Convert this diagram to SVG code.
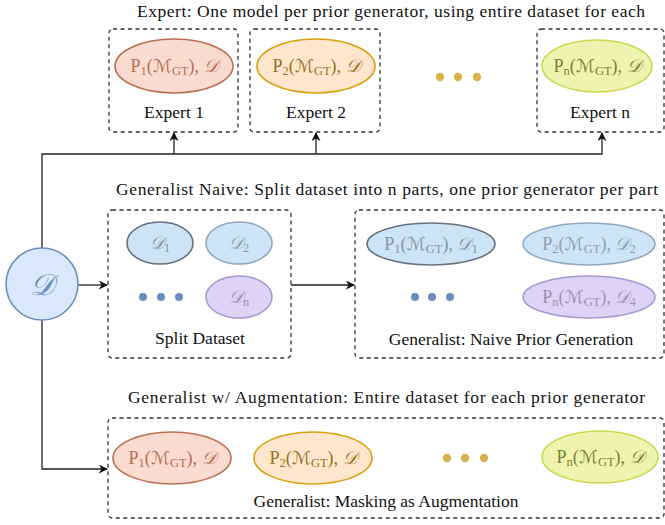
<svg xmlns="http://www.w3.org/2000/svg" width="665" height="525" viewBox="0 0 665 525">
<defs>
<marker id="arr" viewBox="0 0 10 10" refX="9" refY="5" markerWidth="9" markerHeight="9" markerUnits="userSpaceOnUse" orient="auto">
<path d="M0,0 L10,5 L0,10 L3,5 Z" fill="#111"/>
</marker>
</defs>
<style>
text{font-family:"Liberation Serif","Times New Roman",serif;}
.t{font-size:17.5px;fill:#111;}
.box{fill:none;stroke:#333;stroke-width:1.3;stroke-dasharray:4 3.5;}
.ln{fill:none;stroke:#222;stroke-width:1.3;}
.m{font-size:18px;text-anchor:middle;}
.sub{font-size:12.5px;}
.cal{font-family:"DejaVu Serif","DejaVu Sans",serif;font-style:italic;}
.calm{font-family:"DejaVu Sans",sans-serif;font-style:normal;}
.c1 ellipse{fill:#f9dccf;stroke:#bc6e52;stroke-width:1.6;}
.c1 text{fill:#b86e52;}
.c2 ellipse{fill:#ffe6cc;stroke:#d9a00f;stroke-width:1.6;}
.c2 text{fill:#94721f;}
.c3 ellipse{fill:#eef4ad;stroke:#cbd651;stroke-width:1.6;}
.c3 text{fill:#7b803a;}
.b1 ellipse{fill:#cde4f7;stroke:#65727d;stroke-width:1.6;}
.b1 text{fill:#8796a3;}
.b2 ellipse{fill:#cde4f9;stroke:#93a9be;stroke-width:1.6;}
.b2 text{fill:#8d9eae;}
.p1 ellipse{fill:#ddd3f6;stroke:#a898cf;stroke-width:1.6;}
.p1 text{fill:#9a92ac;}
.dy{fill:#d8b24c;}
.db{fill:#6c8ebf;}
</style>

<!-- titles -->
<text class="t" x="137" y="17" textLength="508" lengthAdjust="spacing">Expert: One model per prior generator, using entire dataset for each</text>
<text class="t" x="116" y="195" textLength="542" lengthAdjust="spacing">Generalist Naive: Split dataset into n parts, one prior generator per part</text>
<text class="t" x="128" y="403" textLength="517" lengthAdjust="spacing">Generalist w/ Augmentation: Entire dataset for each prior generator</text>

<!-- connectors -->
<g id="connectors">
<path class="ln" d="M42,248 V154 H602 V133" marker-end="url(#arr)"/>
<path class="ln" d="M174,154 V133" marker-end="url(#arr)"/>
<path class="ln" d="M316,154 V133" marker-end="url(#arr)"/>
<path class="ln" d="M77,285 H107" marker-end="url(#arr)"/>
<path class="ln" d="M291,285 H354" marker-end="url(#arr)"/>
<path class="ln" d="M42,320 V469 H107" marker-end="url(#arr)"/>
</g>

<!-- D circle -->
<g id="dataset">
<circle cx="42" cy="284" r="36" fill="#dae8fc" stroke="#6c8ebf" stroke-width="1.6"/>
<text x="42" y="295" text-anchor="middle" font-size="30" fill="#6c8ebf" class="cal">𝒟</text>
</g>

<!-- Expert 1 -->
<g id="expert1">
<rect class="box" x="109" y="29" width="129" height="103" rx="4"/>
<g class="c1"><ellipse cx="174" cy="66" rx="59" ry="27"/>
<text class="m" x="174" y="72">P<tspan class="sub" dy="3">1</tspan><tspan dy="-3">(</tspan><tspan class="calm">ℳ</tspan><tspan class="sub" dy="3">GT</tspan><tspan dy="-3">), </tspan><tspan class="cal">𝒟</tspan></text></g>
<text class="t" x="174" y="118" text-anchor="middle">Expert 1</text>
</g>

<!-- Expert 2 -->
<g id="expert2">
<rect class="box" x="250" y="29" width="130" height="103" rx="4"/>
<g class="c2"><ellipse cx="316" cy="66" rx="59" ry="27"/>
<text class="m" x="316" y="72">P<tspan class="sub" dy="3">2</tspan><tspan dy="-3">(</tspan><tspan class="calm">ℳ</tspan><tspan class="sub" dy="3">GT</tspan><tspan dy="-3">), </tspan><tspan class="cal">𝒟</tspan></text></g>
<text class="t" x="316" y="118" text-anchor="middle">Expert 2</text>
</g>

<g id="expert-dots">
<circle class="dy" cx="440" cy="77" r="4.2"/><circle class="dy" cx="458" cy="77" r="4.2"/><circle class="dy" cx="477" cy="77" r="4.2"/>
</g>

<!-- Expert n -->
<g id="expertn">
<rect class="box" x="537" y="29" width="127" height="103" rx="4"/>
<g class="c3"><ellipse cx="597" cy="66" rx="55" ry="26"/>
<text class="m" x="597" y="72">P<tspan class="sub" dy="3">n</tspan><tspan dy="-3">(</tspan><tspan class="calm">ℳ</tspan><tspan class="sub" dy="3">GT</tspan><tspan dy="-3">), </tspan><tspan class="cal">𝒟</tspan></text></g>
<text class="t" x="600" y="118" text-anchor="middle">Expert n</text>
</g>

<!-- Split dataset -->
<g id="split">
<rect class="box" x="108" y="210" width="183" height="148" rx="4"/>
<g class="b1"><ellipse cx="160" cy="243" rx="33" ry="21"/>
<text class="m" x="160" y="249"><tspan class="cal">𝒟</tspan><tspan class="sub" dy="3">1</tspan></text></g>
<g class="b2"><ellipse cx="239" cy="243" rx="33" ry="21"/>
<text class="m" x="239" y="249"><tspan class="cal">𝒟</tspan><tspan class="sub" dy="3">2</tspan></text></g>
<g class="p1"><ellipse cx="239" cy="297" rx="33" ry="21"/>
<text class="m" x="239" y="303"><tspan class="cal">𝒟</tspan><tspan class="sub" dy="3">n</tspan></text></g>
<circle class="db" cx="143" cy="297" r="4"/><circle class="db" cx="161" cy="297" r="4"/><circle class="db" cx="179" cy="297" r="4"/>
<text class="t" x="200" y="344" text-anchor="middle">Split Dataset</text>
</g>

<!-- Generalist naive -->
<g id="naive">
<rect class="box" x="355" y="210" width="309" height="148" rx="4"/>
<g class="b1"><ellipse cx="431" cy="244" rx="64" ry="21"/>
<text class="m" x="431" y="250">P<tspan class="sub" dy="3">1</tspan><tspan dy="-3">(</tspan><tspan class="calm">ℳ</tspan><tspan class="sub" dy="3">GT</tspan><tspan dy="-3">), </tspan><tspan class="cal">𝒟</tspan><tspan class="sub" dy="3">1</tspan></text></g>
<g class="b2"><ellipse cx="589" cy="244" rx="66" ry="21"/>
<text class="m" x="589" y="250">P<tspan class="sub" dy="3">2</tspan><tspan dy="-3">(</tspan><tspan class="calm">ℳ</tspan><tspan class="sub" dy="3">GT</tspan><tspan dy="-3">), </tspan><tspan class="cal">𝒟</tspan><tspan class="sub" dy="3">2</tspan></text></g>
<g class="p1"><ellipse cx="589" cy="297" rx="66" ry="21"/>
<text class="m" x="589" y="303">P<tspan class="sub" dy="3">n</tspan><tspan dy="-3">(</tspan><tspan class="calm">ℳ</tspan><tspan class="sub" dy="3">GT</tspan><tspan dy="-3">), </tspan><tspan class="cal">𝒟</tspan><tspan class="sub" dy="3">4</tspan></text></g>
<circle class="db" cx="415" cy="297" r="4"/><circle class="db" cx="432" cy="297" r="4"/><circle class="db" cx="450" cy="297" r="4"/>
<text class="t" x="511" y="345" text-anchor="middle">Generalist: Naive Prior Generation</text>
</g>

<!-- Generalist augmentation -->
<g id="augment">
<rect class="box" x="108" y="418" width="556" height="100" rx="4"/>
<g class="c1"><ellipse cx="172" cy="458" rx="59" ry="26"/>
<text class="m" x="172" y="464">P<tspan class="sub" dy="3">1</tspan><tspan dy="-3">(</tspan><tspan class="calm">ℳ</tspan><tspan class="sub" dy="3">GT</tspan><tspan dy="-3">), </tspan><tspan class="cal">𝒟</tspan></text></g>
<g class="c2"><ellipse cx="313" cy="458" rx="59" ry="26"/>
<text class="m" x="313" y="464">P<tspan class="sub" dy="3">2</tspan><tspan dy="-3">(</tspan><tspan class="calm">ℳ</tspan><tspan class="sub" dy="3">GT</tspan><tspan dy="-3">), </tspan><tspan class="cal">𝒟</tspan></text></g>
<circle class="dy" cx="447" cy="458" r="4.2"/><circle class="dy" cx="465" cy="458" r="4.2"/><circle class="dy" cx="484" cy="458" r="4.2"/>
<g class="c3"><ellipse cx="600" cy="457" rx="58" ry="26"/>
<text class="m" x="600" y="463">P<tspan class="sub" dy="3">n</tspan><tspan dy="-3">(</tspan><tspan class="calm">ℳ</tspan><tspan class="sub" dy="3">GT</tspan><tspan dy="-3">), </tspan><tspan class="cal">𝒟</tspan></text></g>
<text class="t" x="386" y="507" text-anchor="middle">Generalist: Masking as Augmentation</text>
</g>
</svg>
